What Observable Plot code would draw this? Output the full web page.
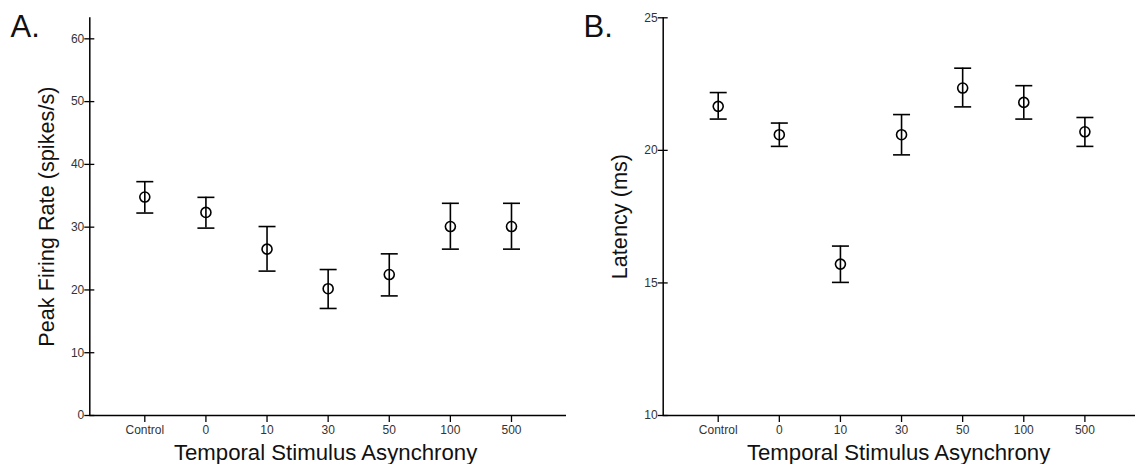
<!DOCTYPE html>
<html>
<head>
<meta charset="utf-8">
<script src="https://cdn.jsdelivr.net/npm/d3@7"></script>
<script src="https://cdn.jsdelivr.net/npm/@observablehq/plot@0.6"></script>
<style>
  html, body { margin: 0; padding: 0; background: #fff; }
  body { width: 1135px; height: 464px; overflow: hidden; }
  #wrap { position: relative; width: 1135px; height: 464px; overflow: hidden; }
  #wrap > svg { position: absolute; top: 0; }
</style>
</head>
<body>
<div id="wrap"></div>
<script>
// ---- data ----
const categories = ["Control", "0", "10", "30", "50", "100", "500"];

const panelALabel = "A.";
const panelBLabel = "B.";
const xTitle = "Temporal Stimulus Asynchrony";
const yTitleA = "Peak Firing Rate (spikes/s)";
const yTitleB = "Latency (ms)";

const rateMean = [34.8, 32.35, 26.5, 20.2, 22.45, 30.1, 30.1];
const rateHi   = [37.25, 34.75, 30.1, 23.25, 25.75, 33.8, 33.8];
const rateLo   = [32.25, 29.85, 23.0, 17.05, 19.05, 26.5, 26.5];
const yTicksA  = [0, 10, 20, 30, 40, 50, 60];

const latMean = [21.66, 20.59, 15.71, 20.59, 22.35, 21.81, 20.70];
const latHi   = [22.18, 21.03, 16.39, 21.35, 23.10, 22.44, 21.24];
const latLo   = [21.18, 20.15, 15.02, 19.83, 21.64, 21.18, 20.15];
const yTicksB = [10, 15, 20, 25];

// ---- helpers ----
const FONT = "'Liberation Sans', Arial, Helvetica, sans-serif";
const cap = { draw(ctx) { ctx.moveTo(-8.5, 0); ctx.lineTo(8.5, 0); } };
const idx = d3.range(categories.length);

function panel({mean, hi, lo, yDomain, yTicks, label, yTitle, left, width, marginLeft, marginRight, yTitleDx, xTitleDx}) {
  const data = categories.map((c, i) => ({i, c, mean: mean[i], hi: hi[i], lo: lo[i]}));
  const svg = Plot.plot({
    width, height: 464,
    marginLeft, marginRight, marginTop: 17.3, marginBottom: 49,
    style: {fontFamily: FONT, background: "transparent", overflow: "visible", color: "black"},
    x: {type: "linear", domain: [-0.9, categories.length - 1 + 0.9]},
    y: {domain: yDomain},
    marks: [
      Plot.ruleY([yDomain[0]], {stroke: "black", strokeWidth: 1.5}),
      Plot.ruleX([-0.9], {stroke: "black", strokeWidth: 1.5}),
      Plot.axisY({ticks: yTicks, tickSize: 10, dx: 5, tickPadding: 0.5, fontSize: 12,
                  label: null, stroke: "black", strokeWidth: 1.3, fill: "#333", tickFormat: d3.format("d")}),
      Plot.axisX({ticks: idx, tickFormat: i => categories[i], tickSize: 7, tickPadding: 3, fontSize: 12,
                  label: null, stroke: "black", strokeWidth: 1.3, fill: "#333"}),
      Plot.ruleX(data, {x: "i", y1: "lo", y2: "hi", stroke: "black", strokeWidth: 1.6}),
      Plot.dot(data, {x: "i", y: "hi", symbol: cap, fill: "none", stroke: "black", strokeWidth: 1.6}),
      Plot.dot(data, {x: "i", y: "lo", symbol: cap, fill: "none", stroke: "black", strokeWidth: 1.6}),
      Plot.dot(data, {x: "i", y: "mean", r: 5, fill: "none", stroke: "black", strokeWidth: 1.6}),
      Plot.text([xTitle], {frameAnchor: "bottom", dx: xTitleDx, dy: 44, textAnchor: "middle", lineAnchor: "bottom", fontSize: 22.2, fill: "#111"}),
      Plot.text([yTitle], {frameAnchor: "left", dx: yTitleDx, rotate: -90, textAnchor: "middle", lineAnchor: "bottom", fontSize: 21.7, fill: "#111"}),
      Plot.text([label], {frameAnchor: "top-left", dx: (left === 0 ? 10 : 583 - left) - marginLeft, dy: 19.4,
                          textAnchor: "start", lineAnchor: "bottom", fontSize: 31, fill: "#111"})
    ]
  });
  svg.style.left = left + "px";
  return svg;
}

const wrap = document.getElementById("wrap");
wrap.appendChild(panel({
  mean: rateMean, hi: rateHi, lo: rateLo, yDomain: [0, 63.35], yTicks: yTicksA,
  label: panelALabel, yTitle: yTitleA, left: 0, width: 570, marginLeft: 89.3, marginRight: 4,
  yTitleDx: -35.8, xTitleDx: -2.6
}));
wrap.appendChild(panel({
  mean: latMean, hi: latHi, lo: latLo, yDomain: [10, 25], yTicks: yTicksB,
  label: panelBLabel, yTitle: yTitleB, left: 570, width: 575, marginLeft: 92.7, marginRight: 5.6,
  yTitleDx: -36, xTitleDx: -3
}));
</script>
</body>
</html>
